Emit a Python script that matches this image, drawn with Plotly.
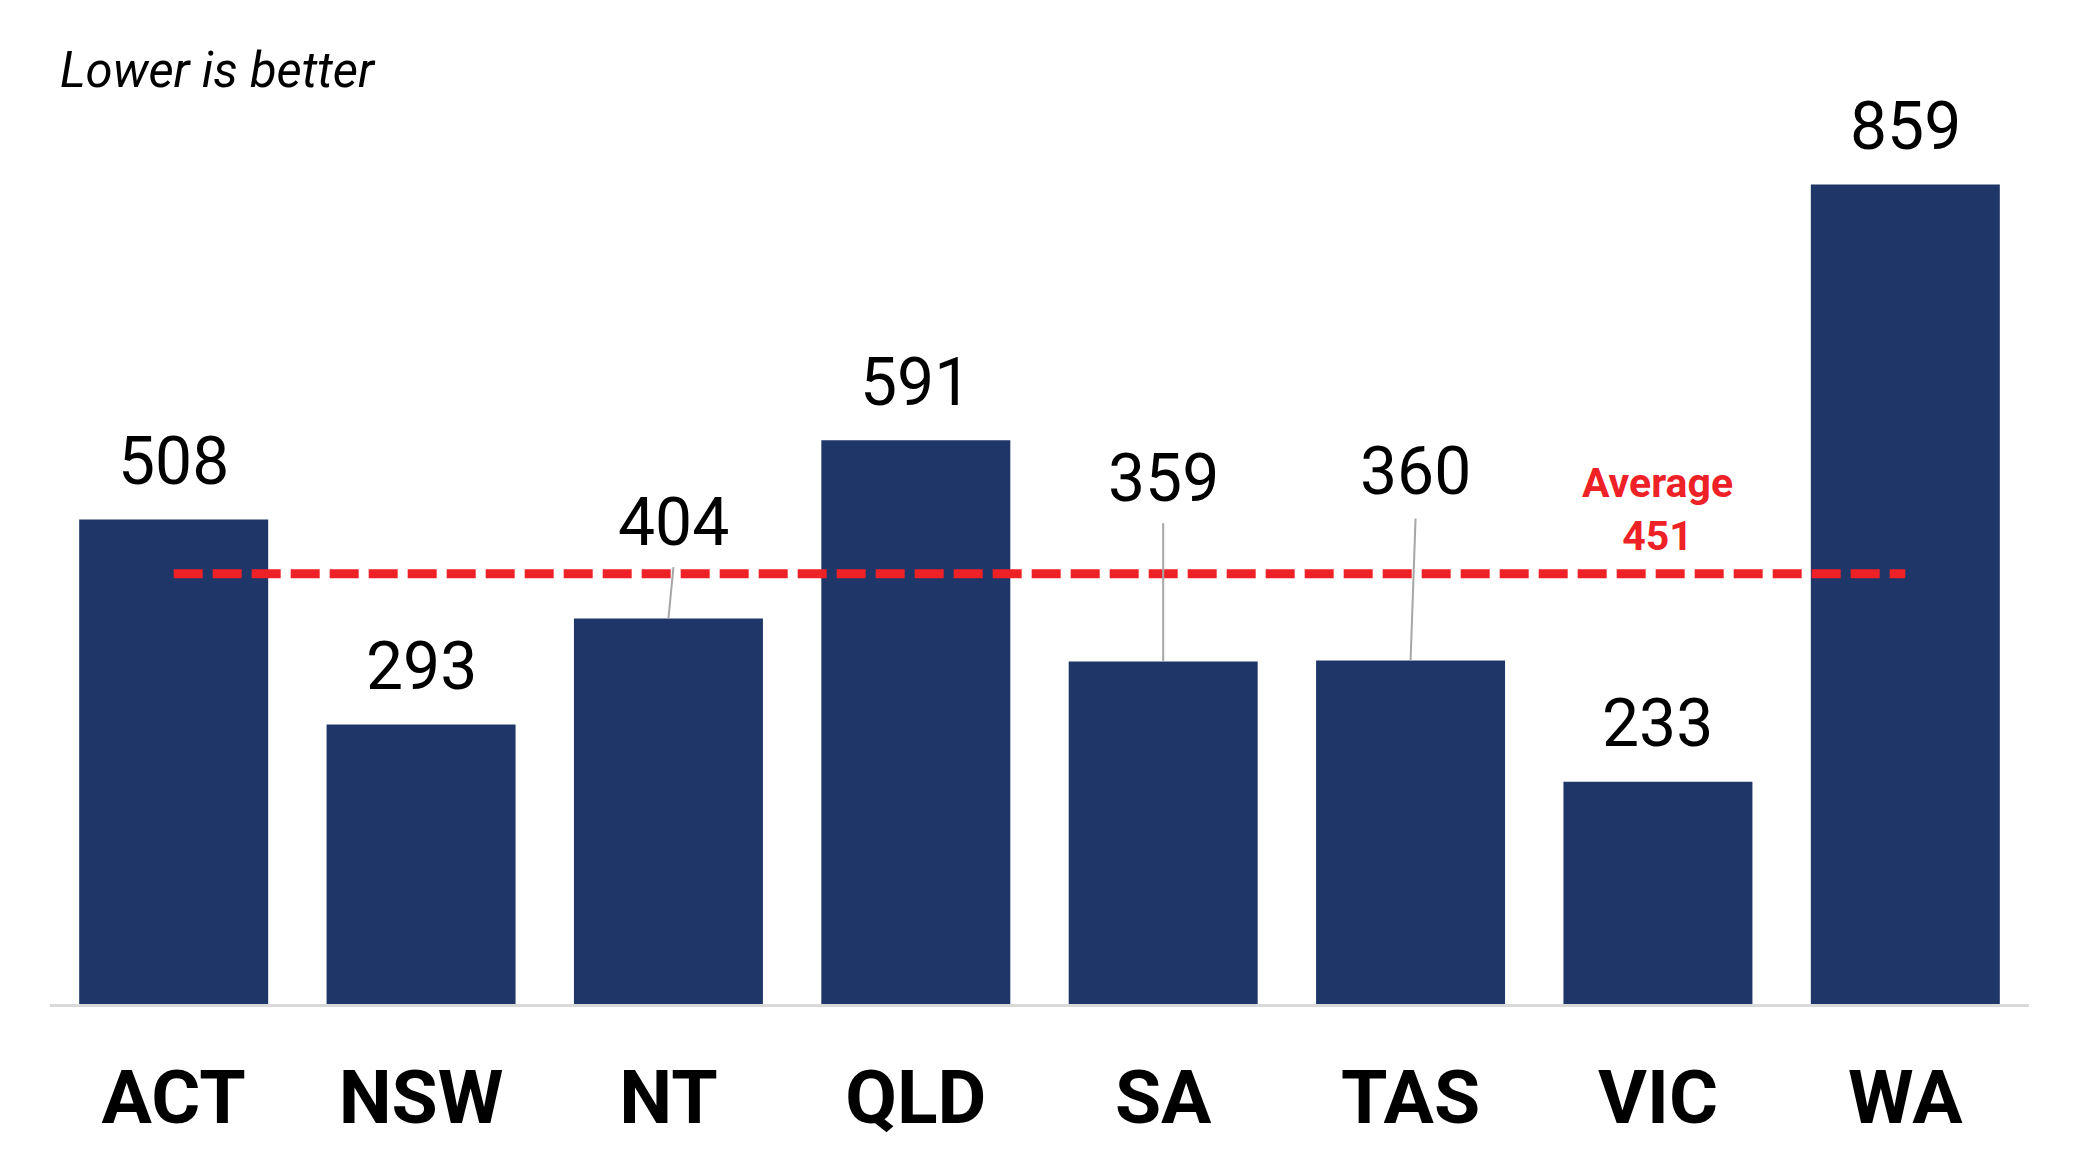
import plotly.graph_objects as go

# ---- data ----
states = ["ACT", "NSW", "NT", "QLD", "SA", "TAS", "VIC", "WA"]
values = [508, 293, 404, 591, 359, 360, 233, 859]
average = 451
note_text = "Lower is better"

# ---- label placement for labels lifted above the average line (label y in data units, x shift in px) ----
lifted = {"NT": (505, 5, 458), "SA": (551, 0, 504), "TAS": (558, 5, 509)}

BAR = "#1F3669"
RED = "#EE2127"
LEADER = "#A6A6A6"
FONT = "Roboto"

fig = go.Figure()
fig.add_trace(go.Bar(x=states, y=values, marker=dict(color=BAR, line=dict(width=0)),
                     hoverinfo="skip", showlegend=False))
fig.add_trace(go.Scatter(x=[states[0], states[-1]], y=[average, average], mode="lines",
                         line=dict(color=RED, width=9, dash="29px,10px"),
                         hoverinfo="skip", showlegend=False))

annotations = []
shapes = []
for i, (s, v) in enumerate(zip(states, values)):
    if s in lifted:
        ly, xs, ltop = lifted[s]
        annotations.append(dict(x=s, y=ly, xref="x", yref="y", text=str(v), showarrow=False,
                                xshift=xs, yanchor="middle", xanchor="center",
                                font=dict(family=FONT, size=66, color="black")))
        shapes.append(dict(type="line", xref="x", yref="y", x0=i, y0=v,
                           x1=i + xs / 247.3, y1=ltop, line=dict(color=LEADER, width=2), layer="above"))
    else:
        annotations.append(dict(x=s, y=v, xref="x", yref="y", text=str(v), showarrow=False,
                                yshift=58, yanchor="middle", xanchor="center",
                                font=dict(family=FONT, size=66, color="black")))

annotations.append(dict(x="VIC", y=average, xref="x", yref="y", text="<b>Average<br>451</b>",
                        showarrow=False, yshift=64, yanchor="middle", xanchor="center",
                        font=dict(family=FONT, size=41, color=RED)))
annotations.append(dict(x=0.004, y=0.968, xref="paper", yref="paper", text="<i>" + note_text + "</i>",
                        showarrow=False, xanchor="left", yanchor="middle",
                        font=dict(family=FONT, size=49, color="black")))

fig.update_layout(
    width=2079, height=1169,
    margin=dict(l=42, r=58, t=32, b=173),
    paper_bgcolor="white", plot_bgcolor="white",
    bargap=0.236,
    annotations=annotations, shapes=shapes,
    xaxis=dict(showline=True, linecolor="#D9D9D9", linewidth=3, showgrid=False, ticks="",
               range=[-0.5, 7.5], ticklabelstandoff=26,
               tickfont=dict(family=FONT, size=75, color="black", weight="bold")),
    yaxis=dict(visible=False, range=[0, 1010.5], showgrid=False, zeroline=False),
)

fig.write_html("out.html")
